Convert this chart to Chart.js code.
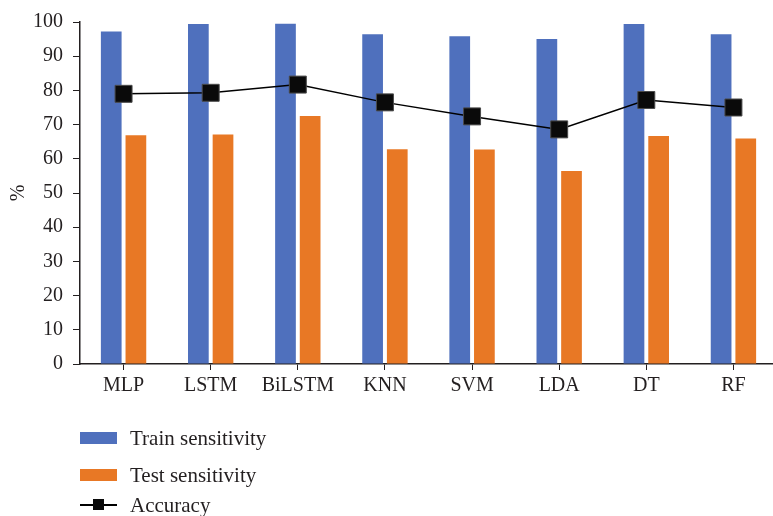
<!DOCTYPE html>
<html>
<head>
<meta charset="utf-8">
<script src="https://cdn.jsdelivr.net/npm/chart.js@4.4.0/dist/chart.umd.min.js"></script>
<style>
  html, body { margin: 0; padding: 0; background: #fff; overflow: hidden; width: 773px; height: 516px; }
  #wrap { position: absolute; left: 0; top: 0; width: 790px; height: 410px; }
  #legend { position: absolute; left: 0; top: 0; width: 773px; height: 516px; pointer-events: none;
            font-family: 'Liberation Serif', 'DejaVu Serif', serif; font-size: 21px; color: #231f20; }
  .item { position: absolute; left: 80px; height: 24px; display: flex; align-items: center; }
  .item:nth-child(1) { top: 426px; }
  .item:nth-child(2) { top: 463px; }
  .item:nth-child(3) { top: 493px; }
  .swatch { width: 37px; height: 12px; margin-right: 13px; position: relative; }
  .swatch.line::before { content: ''; position: absolute; left: 0; right: 0; top: 5px; height: 1.5px; background: #000; }
  .swatch.line::after { content: ''; position: absolute; left: 13px; top: 0px; width: 11px; height: 11px; background: #0a0a0a; }
</style>
</head>
<body>
<div id="wrap"><canvas id="chart" width="790" height="410"></canvas></div>
<div id="legend"></div>
<script>
const TEXT_COLOR = '#231f20';
const FONT_FAMILY = "'Liberation Serif', 'DejaVu Serif', serif";

const categories = ['MLP', 'LSTM', 'BiLSTM', 'KNN', 'SVM', 'LDA', 'DT', 'RF'];
const trainSensitivity = [97.2, 99.4, 99.5, 96.4, 95.8, 95.0, 99.4, 96.4];
const testSensitivity = [66.9, 67.1, 72.5, 62.8, 62.7, 56.4, 66.7, 65.9];
const accuracy = [79.0, 79.3, 81.7, 76.5, 72.4, 68.6, 77.2, 75.0];
const seriesNames = ['Train sensitivity', 'Test sensitivity', 'Accuracy'];

const BLUE = '#4f70bd';
const ORANGE = '#e87825';

// legend is plain html, stacked in a column like the original
const htmlLegend = {
    id: 'htmlLegend',
    afterUpdate: (chart) => {
        const box = document.getElementById('legend');
        box.innerHTML = '';
        chart.data.datasets.forEach((ds) => {
            const row = document.createElement('div');
            row.className = 'item';
            const sw = document.createElement('span');
            sw.className = 'swatch';
            if (ds.type === 'line') {
                sw.classList.add('line');
            } else {
                sw.style.background = ds.backgroundColor;
            }
            const label = document.createElement('span');
            label.textContent = ds.label;
            row.appendChild(sw);
            row.appendChild(label);
            box.appendChild(row);
        });
    },
};

const axisFont = { family: FONT_FAMILY, size: 20 };

new Chart(document.getElementById('chart'), {
    type: 'bar',
    data: {
        labels: categories,
        datasets: [
            {
                label: seriesNames[0],
                data: trainSensitivity,
                backgroundColor: BLUE,
                order: 1,
            },
            {
                label: seriesNames[1],
                data: testSensitivity,
                backgroundColor: ORANGE,
                order: 1,
            },
            {
                type: 'line',
                label: seriesNames[2],
                data: accuracy,
                borderColor: '#000',
                borderWidth: 1.5,
                pointStyle: 'rect',
                pointRadius: 12,
                pointBackgroundColor: '#0a0a0a',
                pointBorderColor: '#4a4a4a',
                pointBorderWidth: 1,
                order: 0,
            },
        ],
    },
    options: {
        responsive: false,
        animation: false,
        devicePixelRatio: 1,
        layout: { padding: { top: 16, right: 6, left: 0, bottom: 0 } },
        datasets: {
            bar: { categoryPercentage: 0.566, barPercentage: 0.84 },
        },
        plugins: {
            legend: { display: false },
            tooltip: { enabled: false },
        },
        scales: {
            x: {
                grid: {
                    display: true,
                    drawOnChartArea: false,
                    drawTicks: true,
                    tickLength: 6,
                    color: TEXT_COLOR,
                    offset: false,
                },
                border: { display: true, color: TEXT_COLOR, width: 1.5 },
                ticks: { font: axisFont, color: TEXT_COLOR, padding: 4 },
                afterFit: (scale) => { scale.height = 46; },
            },
            y: {
                min: 0,
                max: 100,
                ticks: { stepSize: 10, font: axisFont, color: TEXT_COLOR, padding: 10 },
                grid: {
                    drawOnChartArea: false,
                    tickLength: 7,
                    color: TEXT_COLOR,
                },
                border: { display: true, color: TEXT_COLOR, width: 1.5 },
                title: {
                    display: true,
                    text: '%',
                    font: axisFont,
                    color: TEXT_COLOR,
                    padding: { top: 7, bottom: 0 },
                },
                afterFit: (scale) => { scale.width = 80; },
            },
        },
    },
    plugins: [htmlLegend],
});
</script>
</body>
</html>
